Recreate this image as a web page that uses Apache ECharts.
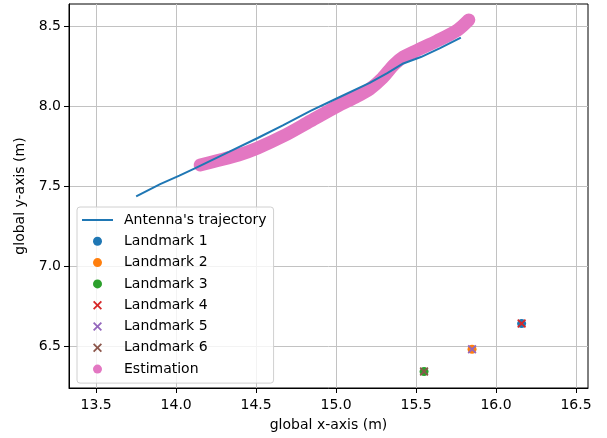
<!DOCTYPE html>
<html>
<head>
<meta charset="utf-8">
<script src="https://cdn.jsdelivr.net/npm/echarts@6/dist/echarts.min.js"></script>
<style>
  html, body { margin: 0; padding: 0; background: #fff; }
  #chart { width: 607px; height: 438px; }
</style>
</head>
<body>
<div id="chart"></div>
<script>
// Antenna trajectory (ground truth), metres
const trajX = [13.75, 13.90, 14.02, 14.12, 14.33, 14.51, 14.67, 14.84, 15.01, 15.21, 15.32, 15.42, 15.53, 15.65, 15.78];
const trajY = [7.435, 7.512, 7.565, 7.612, 7.713, 7.800, 7.881, 7.969, 8.050, 8.144, 8.206, 8.266, 8.306, 8.362, 8.428];

// Estimated trajectory, metres
const estX = [14.15, 14.26, 14.39, 14.51, 14.67, 14.84, 15.01, 15.11, 15.21, 15.29, 15.36, 15.42, 15.51, 15.63, 15.76, 15.83];
const estY = [7.631, 7.659, 7.694, 7.738, 7.812, 7.906, 8.000, 8.050, 8.106, 8.175, 8.256, 8.306, 8.350, 8.406, 8.475, 8.538];

// Landmarks
const landmarkNames = ['Landmark 1', 'Landmark 2', 'Landmark 3', 'Landmark 4', 'Landmark 5', 'Landmark 6'];
const landmarkX = [16.16, 15.85, 15.55, 16.16, 15.85, 15.55];
const landmarkY = [6.64, 6.48, 6.34, 6.64, 6.48, 6.34];
const landmarkMarker = ['circle', 'circle', 'circle', 'cross', 'cross', 'cross'];

// Axis ticks
const xTicks = [13.5, 14.0, 14.5, 15.0, 15.5, 16.0, 16.5];
const yTicks = [6.5, 7.0, 7.5, 8.0, 8.5];

const palette = ['#1f77b4', '#ff7f0e', '#2ca02c', '#d62728', '#9467bd', '#8c564b', '#e377c2'];
const FONT = 'DejaVu Sans';
const CROSS = 'path://M0,1.4L1.4,0L5,3.6L8.6,0L10,1.4L6.4,5L10,8.6L8.6,10L5,6.4L1.4,10L0,8.6L3.6,5Z';
const LINE_ICON = 'path://M0,0H31V2H0Z';

const zip = (xs, ys) => xs.map((x, i) => [x, ys[i]]);

const series = [
  {
    name: 'Estimation',
    type: 'line',
    data: zip(estX, estY),
    symbol: 'none',
    smooth: 0.3,
    color: palette[6],
    lineStyle: { width: 13, color: palette[6], cap: 'round', join: 'round' },
    z: 1
  },
  {
    name: "Antenna's trajectory",
    type: 'line',
    data: zip(trajX, trajY),
    symbol: 'none',
    color: palette[0],
    lineStyle: { width: 2, color: palette[0] },
    z: 3
  }
];

landmarkNames.forEach((name, i) => {
  series.push({
    name: name,
    type: 'scatter',
    data: [[landmarkX[i], landmarkY[i]]],
    symbol: landmarkMarker[i] === 'cross' ? CROSS : 'circle',
    symbolSize: 9,
    color: palette[i],
    itemStyle: { color: palette[i], opacity: 1 },
    z: 3
  });
});

const legendData = [
  { name: "Antenna's trajectory", icon: LINE_ICON, itemStyle: { borderWidth: 0 } }
].concat(landmarkNames.map((n, i) => ({
  name: n,
  icon: landmarkMarker[i] === 'cross' ? CROSS : 'circle',
  itemStyle: { borderWidth: 0 }
}))).concat([{ name: 'Estimation', icon: 'circle', itemStyle: { borderWidth: 0 } }]);

const tickFmt = v => Number(v).toFixed(1);

const option = {
  animation: false,
  backgroundColor: '#fff',
  textStyle: { fontFamily: FONT },
  grid: {
    left: 69, right: 19, top: 4, bottom: 50,
    containLabel: false,
    outerBoundsMode: 'none',
    show: true,
    borderColor: '#000',
    borderWidth: 1,
    backgroundColor: 'transparent'
  },
  xAxis: {
    type: 'value',
    min: 13.33,
    max: 16.575,
    minInterval: 0.5,
    maxInterval: 0.5,
    splitNumber: 6,
    name: 'global x-axis (m)',
    nameLocation: 'middle',
    nameGap: 30,
    nameTextStyle: { fontSize: 14, color: '#000', fontFamily: FONT },
    axisLine: { show: true, lineStyle: { color: '#000', width: 1 } },
    axisTick: { show: true, length: 5, lineStyle: { color: '#000' }, customValues: xTicks },
    axisLabel: {
      show: true, fontSize: 14, color: '#000', fontFamily: FONT, margin: 10,
      customValues: xTicks, formatter: tickFmt
    },
    splitLine: { show: true, lineStyle: { color: '#c2c2c2', width: 1 } }
  },
  yAxis: {
    type: 'value',
    min: 6.2375,
    max: 8.6375,
    minInterval: 0.5,
    maxInterval: 0.5,
    splitNumber: 5,
    name: 'global y-axis (m)',
    nameLocation: 'middle',
    nameGap: 37,
    nameTextStyle: { fontSize: 14, color: '#000', fontFamily: FONT },
    axisLine: { show: true, lineStyle: { color: '#000', width: 1 } },
    axisTick: { show: true, length: 5, lineStyle: { color: '#000' }, customValues: yTicks },
    axisLabel: {
      show: true, fontSize: 14, color: '#000', fontFamily: FONT, margin: 8,
      customValues: yTicks, formatter: tickFmt
    },
    splitLine: { show: true, lineStyle: { color: '#c2c2c2', width: 1 } }
  },
  legend: {
    orient: 'vertical',
    left: 77,
    top: 207,
    z: 5,
    data: legendData,
    itemWidth: 31,
    itemHeight: 9,
    itemGap: 7.3,
    padding: [6, 7, 7, 5],
    backgroundColor: 'rgba(255,255,255,0.8)',
    borderColor: '#d0d0d0',
    borderWidth: 1,
    borderRadius: 3,
    selectedMode: false,
    textStyle: { fontSize: 14, color: '#000', fontFamily: FONT, lineHeight: 14, padding: [0, 0, 0, 6] }
  },
  series: series
};

const chart = echarts.init(document.getElementById('chart'), null, { renderer: 'canvas' });
chart.setOption(option);
</script>
</body>
</html>
